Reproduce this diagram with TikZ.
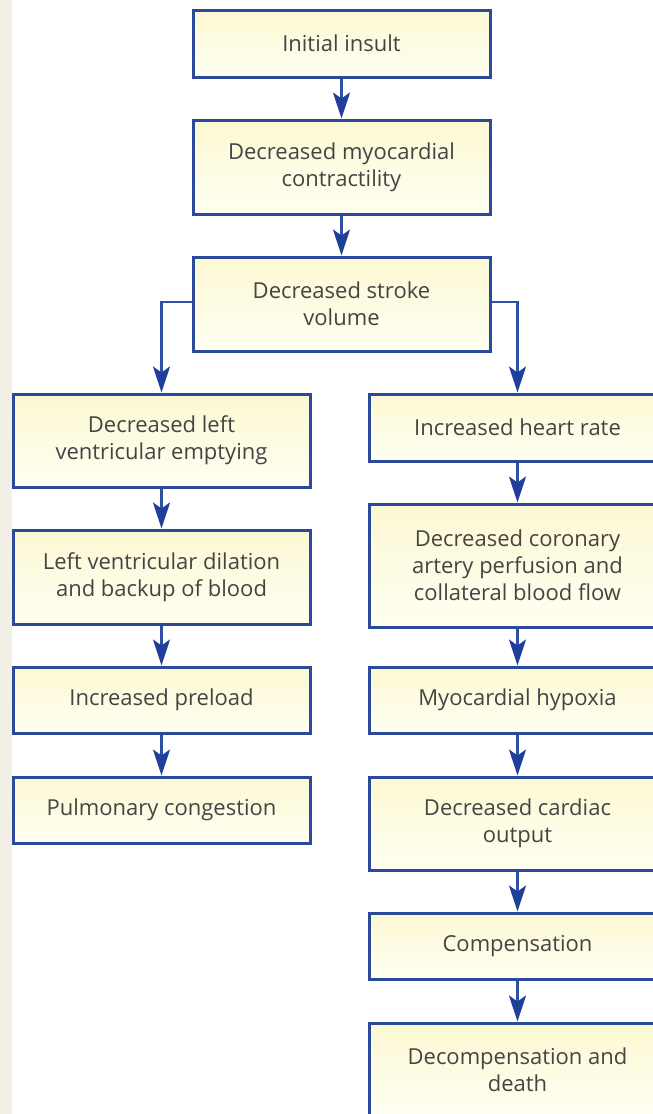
\documentclass[tikz,border=0pt]{standalone}
\usepackage{fontspec}
\setmainfont{Open Sans}
\usetikzlibrary{arrows.meta}
\definecolor{boxline}{HTML}{2B4A9C}
\definecolor{arrowblue}{HTML}{1E3F9A}
\definecolor{shaftblue}{HTML}{2F50A4}
\definecolor{filltop}{HTML}{FCF8D3}
\definecolor{fillbot}{HTML}{FFFFF2}
\definecolor{textgray}{HTML}{444444}
\definecolor{strip}{HTML}{F2EFE7}
\tikzset{
  flowbox/.style={draw=boxline, line width=3pt, top color=filltop, bottom color=fillbot,
    minimum width=297pt, inner sep=0pt, align=center, text=textgray,
    font=\fontsize{22pt}{27pt}\selectfont},
  flowarrow/.style={draw=shaftblue, line width=2.2pt,
    -{Stealth[length=26pt, width=17pt, inset=6pt, color=arrowblue]}}
}
\begin{document}
\begin{tikzpicture}[x=1pt,y=-1pt]
\useasboundingbox (0,0) rectangle (653,1114);
\clip (0,0) rectangle (653,1114);
\fill[white] (0,0) rectangle (653,1114);
\fill[strip] (0,0) rectangle (12,1114);

% centre column
\node[flowbox, minimum height=67pt] (insult) at (341.5,43.5) {Initial insult};
\node[flowbox, minimum height=94pt] (contract) at (341.5,167) {Decreased myocardial\\contractility};
\node[flowbox, minimum height=94pt] (stroke) at (341.5,304) {Decreased stroke\\volume};

% left column
\node[flowbox, minimum height=93pt] (empty) at (161.5,440.5) {Decreased left\\ventricular emptying};
\node[flowbox, minimum height=94pt] (dilation) at (161.5,577) {Left ventricular dilation\\and backup of blood};
\node[flowbox, minimum height=66pt] (preload) at (161.5,700) {Increased preload};
\node[flowbox, minimum height=66pt] (pulm) at (161.5,810) {Pulmonary congestion};

% right column
\node[flowbox, minimum height=67pt] (rate) at (517.5,427.5) {Increased heart rate};
\node[flowbox, minimum height=123pt] (coronary) at (517.5,565.5) {Decreased coronary\\artery perfusion and\\collateral blood flow};
\node[flowbox, minimum height=66pt] (hypoxia) at (517.5,700) {Myocardial hypoxia};
\node[flowbox, minimum height=93pt] (output) at (517.5,823.5) {Decreased cardiac\\output};
\node[flowbox, minimum height=66pt] (comp) at (517.5,946) {Compensation};
\node[flowbox, minimum height=94pt] (decomp) at (517.5,1070) {Decompensation and\\death};

% connectors
\draw[flowarrow] (insult) -- (contract);
\draw[flowarrow] (contract) -- (stroke);
\draw[flowarrow] ([yshift=2pt]stroke.west) -| (empty.north);
\draw[flowarrow] ([yshift=2pt]stroke.east) -| (rate.north);
\draw[flowarrow] (empty) -- (dilation);
\draw[flowarrow] (dilation) -- (preload);
\draw[flowarrow] (preload) -- (pulm);
\draw[flowarrow] (rate) -- (coronary);
\draw[flowarrow] (coronary) -- (hypoxia);
\draw[flowarrow] (hypoxia) -- (output);
\draw[flowarrow] (output) -- (comp);
\draw[flowarrow] (comp) -- (decomp);
\end{tikzpicture}
\end{document}
